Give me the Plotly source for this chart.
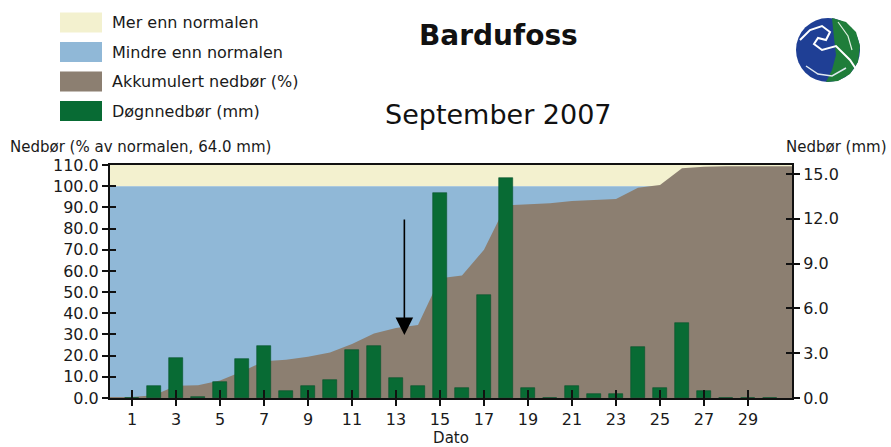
import plotly.graph_objects as go

# ---------------- data ----------------
days = list(range(1, 31))
precip_mm = [0, 0.8, 2.7, 0.1, 1.1, 2.6, 3.5, 0.5, 0.8, 1.2,
             3.2, 3.5, 1.35, 0.8, 13.75, 0.7, 6.9, 14.7, 0.7, 0,
             0.8, 0.3, 0.3, 3.4, 0.7, 5.0, 0.45, 0, 0, 0]
acc_days = list(range(0, 31))
acc_pct = [0.5, 0.5, 1.3, 5.8, 6.0, 8.3, 12.5, 17.3, 18.0, 19.5,
           21.5, 25.5, 30.5, 33.0, 34.5, 56.5, 57.8, 70.0, 91.0, 91.5,
           92.0, 93.0, 93.5, 94.0, 99.3, 100.6, 108.5, 109.2, 109.4, 109.4, 109.4]
normal_pct = 100
x_ticks = list(range(1, 30, 2))
legend_labels = ["Mer enn normalen", "Mindre enn normalen",
                 "Akkumulert nedbør (%)", "Døgnnedbør (mm)"]
title = "Bardufoss"
subtitle = "September 2007"
left_title = "Nedbør (% av normalen, 64.0 mm)"
right_title = "Nedbør (mm)"

# ---------------- style ----------------
C_YEL = "#F3F1CF"
C_BLUE = "#90B8D7"
C_BROWN = "#8C7F71"
C_GREEN = "#086B34"
legend_colors = [C_YEL, C_BLUE, C_BROWN, C_GREEN]
FONT = "DejaVu Sans"

W, H = 891, 447
L, R, T, B = 110, 99, 165, 49
PW, PH = W - L - R, H - T - B
XMAX = 31
Y1MAX = 110
Y2MAX = 15.6


def px(xp):
    return (xp - L) / PW


def py(yp):
    return (H - B - yp) / PH


fig = go.Figure()

# accumulated area (extended to the right edge)
ax_x = acc_days + [XMAX]
ax_y = acc_pct + [acc_pct[-1]]
fig.add_trace(go.Scatter(x=ax_x, y=ax_y, mode="lines", fill="tozeroy",
                         line=dict(color=C_BROWN, width=0), fillcolor=C_BROWN,
                         hoverinfo="skip", showlegend=False, xaxis="x", yaxis="y"))

# daily precipitation bars
fig.add_trace(go.Bar(x=days, y=precip_mm, width=0.68,
                     marker=dict(color=C_GREEN, line=dict(width=0.6, color="#05502a")),
                     xaxis="x", yaxis="y2", showlegend=False, hoverinfo="skip"))

# invisible helpers for inner tick axes
fig.add_trace(go.Scatter(x=[None], y=[None], xaxis="x2", yaxis="y", showlegend=False, hoverinfo="skip"))
fig.add_trace(go.Scatter(x=[None], y=[None], xaxis="x", yaxis="y3", showlegend=False, hoverinfo="skip"))
fig.add_trace(go.Scatter(x=[None], y=[None], xaxis="x", yaxis="y4", showlegend=False, hoverinfo="skip"))

tickfont = dict(family=FONT, size=16, color="#1a1a1a")

shapes = [
    dict(type="rect", xref="x", yref="y", x0=0, x1=XMAX, y0=normal_pct, y1=Y1MAX,
         fillcolor=C_YEL, line=dict(width=0), layer="below"),
    dict(type="rect", xref="x", yref="y", x0=0, x1=XMAX, y0=0, y1=normal_pct,
         fillcolor=C_BLUE, line=dict(width=0), layer="below"),
]

annotations = []
# legend block
row_centers = [22.5, 52, 81.5, 111]
for lab, col, yc in zip(legend_labels, legend_colors, row_centers):
    shapes.append(dict(type="rect", xref="paper", yref="paper",
                       x0=px(60), x1=px(102), y0=py(yc + 10), y1=py(yc - 10),
                       fillcolor=col, line=dict(width=0)))
    annotations.append(dict(xref="paper", yref="paper", x=px(110), y=py(yc),
                            xanchor="left", yanchor="middle", text=lab, showarrow=False,
                            font=dict(family=FONT, size=16, color="#1a1a1a")))

annotations += [
    dict(xref="paper", yref="paper", x=px(498), y=py(35), text="<b>%s</b>" % title,
         showarrow=False, xanchor="center", yanchor="middle",
         font=dict(family=FONT, size=28, color="#111")),
    dict(xref="paper", yref="paper", x=px(498), y=py(114), text=subtitle,
         showarrow=False, xanchor="center", yanchor="middle",
         font=dict(family=FONT, size=27, color="#111")),
    dict(xref="paper", yref="paper", x=px(8), y=py(147), text=left_title,
         showarrow=False, xanchor="left", yanchor="middle",
         font=dict(family=FONT, size=15, color="#1a1a1a")),
    dict(xref="paper", yref="paper", x=px(889), y=py(147), text=right_title,
         showarrow=False, xanchor="right", yanchor="middle",
         font=dict(family=FONT, size=15, color="#1a1a1a")),
    # arrow
    dict(xref="x", yref="y", axref="x", ayref="y", x=13.38, y=29.7, ax=13.38, ay=85,
         text="", showarrow=True, arrowhead=2, arrowsize=2.2, arrowwidth=1.6, arrowcolor="#000"),
]

# logo (approximate globe)
cx, cy, r = 828, 50, 32
shapes.append(dict(type="circle", xref="paper", yref="paper",
                   x0=px(cx - r), x1=px(cx + r), y0=py(cy + r), y1=py(cy - r),
                   fillcolor="#1f3f95", line=dict(width=0)))


def pth(points, close=True):
    s = "M " + " L ".join("%f,%f" % (px(a), py(b)) for a, b in points)
    return s + (" Z" if close else "")


shapes.append(dict(type="path", xref="paper", yref="paper",
                   path=pth([(832, 18), (846, 22), (856, 32), (860, 46), (858, 62), (850, 74),
                             (838, 81), (826, 82), (832, 70), (836, 55), (834, 38)]),
                   fillcolor="#1f7d3a", line=dict(width=0)))
shapes.append(dict(type="path", xref="paper", yref="paper",
                   path=pth([(800, 40), (810, 30), (822, 26), (830, 32), (826, 40), (818, 38),
                             (814, 44), (822, 50), (836, 46), (850, 60), (858, 72)], close=False),
                   line=dict(color="white", width=2)))
shapes.append(dict(type="path", xref="paper", yref="paper",
                   path=pth([(806, 66), (818, 74), (832, 76), (846, 68)], close=False),
                   line=dict(color="#dfe8f0", width=1.5)))
shapes.append(dict(type="path", xref="paper", yref="paper",
                   path=pth([(838, 22), (848, 36), (852, 50)], close=False),
                   line=dict(color="#dfefe0", width=1.2)))

fig.update_layout(
    width=W, height=H,
    margin=dict(l=L, r=R, t=T, b=B, pad=0, autoexpand=False),
    paper_bgcolor="white", plot_bgcolor="white",
    bargap=0, showlegend=False,
    xaxis=dict(range=[0, XMAX], tickvals=x_ticks, ticks="outside", ticklen=6, tickwidth=2,
               tickcolor="#111", showline=True, linecolor="#111", linewidth=2, mirror=True,
               showgrid=False, zeroline=False, tickfont=tickfont, automargin=False,
               title=dict(text="Dato", font=dict(family=FONT, size=15, color="#1a1a1a"), standoff=0),
               layer="above traces"),
    xaxis2=dict(range=[0, XMAX], matches="x", overlaying="x", anchor="y", side="bottom",
                tickvals=x_ticks, ticks="inside", ticklen=8, tickwidth=2, tickcolor="#111",
                showticklabels=False, showline=False, showgrid=False, zeroline=False, automargin=False),
    yaxis=dict(range=[0, Y1MAX], dtick=10, tickformat=".1f", ticks="outside", ticklen=6, tickwidth=2,
               tickcolor="#111", showline=True, linecolor="#111", linewidth=2,
               showgrid=False, zeroline=False, tickfont=tickfont, automargin=False),
    yaxis3=dict(range=[0, Y1MAX], matches="y", overlaying="y", anchor="x", side="left", dtick=10,
                ticks="inside", ticklen=6, tickwidth=2, tickcolor="#111",
                showticklabels=False, showline=False, showgrid=False, zeroline=False, automargin=False),
    yaxis2=dict(range=[0, Y2MAX], dtick=3, tickformat=".1f", overlaying="y", side="right", anchor="x",
                ticks="outside", ticklen=6, tickwidth=2, tickcolor="#111",
                showline=True, linecolor="#111", linewidth=2,
                showgrid=False, zeroline=False, tickfont=tickfont, automargin=False),
    yaxis4=dict(range=[0, Y2MAX], overlaying="y", side="right", anchor="x", dtick=3,
                ticks="inside", ticklen=6, tickwidth=2, tickcolor="#111",
                showticklabels=False, showline=False, showgrid=False, zeroline=False, automargin=False),
    shapes=shapes, annotations=annotations,
)

fig.write_html("out.html", post_script="document.body.style.margin='0px';",
               config={"displayModeBar": False})
